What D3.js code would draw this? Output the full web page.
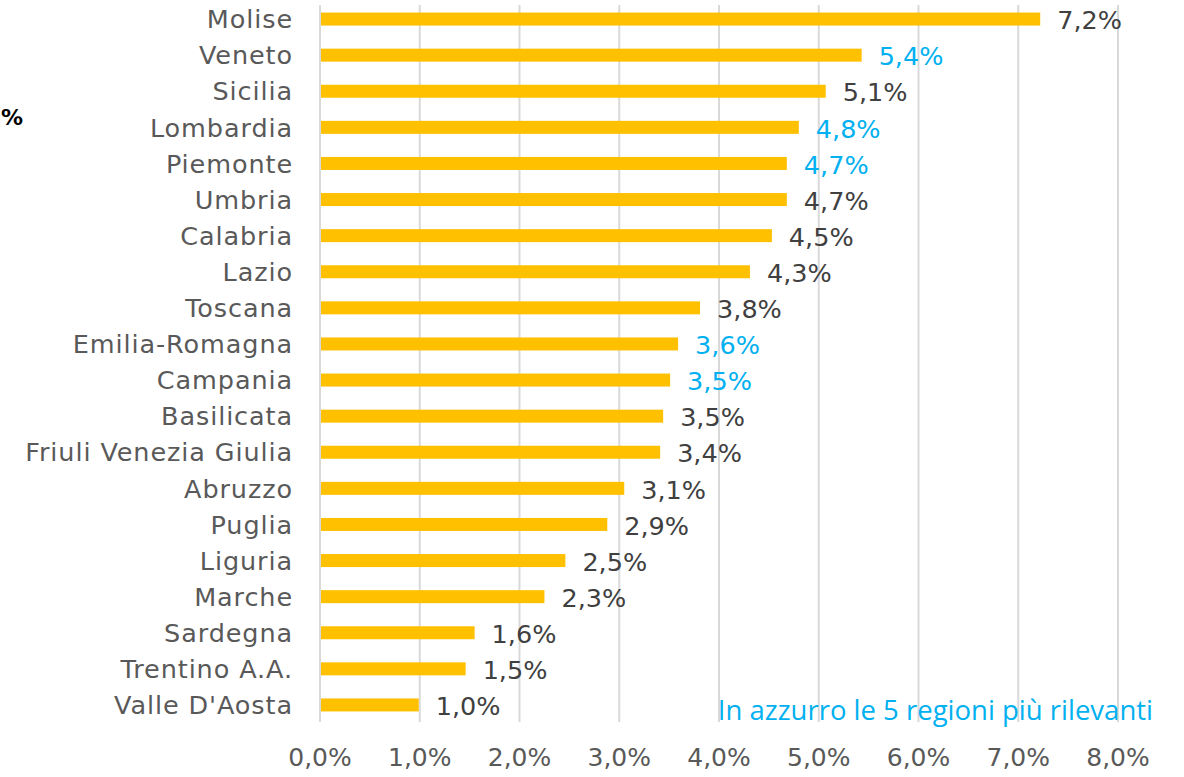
<!DOCTYPE html>
<html><head><meta charset="utf-8">
<script src="https://cdn.jsdelivr.net/npm/d3@7"></script>
<style>body{margin:0;background:#fff}svg{display:block}</style>
</head><body>
<svg id="c" width="1184" height="777"></svg>
<script>
const regions = ["Molise","Veneto","Sicilia","Lombardia","Piemonte","Umbria","Calabria","Lazio","Toscana","Emilia-Romagna","Campania","Basilicata","Friuli Venezia Giulia","Abruzzo","Puglia","Liguria","Marche","Sardegna","Trentino A.A.","Valle D'Aosta"];
const values = [7.22,5.43,5.07,4.80,4.68,4.68,4.53,4.31,3.81,3.59,3.51,3.44,3.41,3.05,2.88,2.46,2.25,1.55,1.46,0.99];
const valueLabels = ["7,2%","5,4%","5,1%","4,8%","4,7%","4,7%","4,5%","4,3%","3,8%","3,6%","3,5%","3,5%","3,4%","3,1%","2,9%","2,5%","2,3%","1,6%","1,5%","1,0%"];
const highlighted = ["Veneto","Lombardia","Piemonte","Emilia-Romagna","Campania"];
const xTicks = [0,1,2,3,4,5,6,7,8];
const note = "In azzurro le 5 regioni più rilevanti";

const svg = d3.select("#c");
const x = d3.scaleLinear().domain([0,8]).range([320,1118]);
const y = d3.scaleBand().domain(regions).range([1,723]).paddingInner(0.64).paddingOuter(0.32);
const font = "DejaVu Sans";

// gridlines
svg.append("g").selectAll("line").data(xTicks).join("line")
  .attr("x1",d=>x(d)).attr("x2",d=>x(d)).attr("y1",5).attr("y2",722)
  .attr("stroke","#D9D9D9").attr("stroke-width",2);

// bars
svg.append("g").selectAll("rect").data(regions).join("rect")
  .attr("x",x(0)+1).attr("y",d=>y(d)).attr("height",y.bandwidth())
  .attr("width",(d,i)=>x(values[i])-x(0)-1).attr("fill","#FFC000");

// category labels
svg.append("g").selectAll("text").data(regions).join("text")
  .attr("x",293).attr("y",d=>y(d)+y.bandwidth()/2).attr("dy","0.36em")
  .attr("text-anchor","end").attr("font-family",font).attr("font-size",25.5)
  .attr("letter-spacing",0.9)
  .attr("fill","#595959").text(d=>d);

// value labels
svg.append("g").selectAll("text").data(regions).join("text")
  .attr("x",(d,i)=>x(values[i])+17).attr("y",d=>y(d)+y.bandwidth()/2+1).attr("dy","0.36em")
  .attr("font-family",font).attr("font-size",25.5)
  .attr("fill",d=>highlighted.includes(d)?"#00B0F0":"#404040").text((d,i)=>valueLabels[i]);

// x axis tick labels
const fmt = d=>d.toFixed(1).replace(".",",")+"%";
svg.append("g").selectAll("text").data(xTicks).join("text")
  .attr("x",d=>x(d)).attr("y",757).attr("dy","0.36em").attr("text-anchor","middle")
  .attr("font-family",font).attr("font-size",25).attr("fill","#595959").text(fmt);

// note
svg.append("text").attr("x",1153).attr("y",720).attr("text-anchor","end")
  .attr("font-family","Open Sans").attr("font-size",27.5).attr("fill","#00B0F0").text(note);

// partially visible text at left
svg.append("text").attr("x",1).attr("y",125)
  .attr("font-family","DejaVu Sans").attr("font-weight","bold").attr("font-size",22).attr("fill","#000").text("%");
</script>
</body></html>
